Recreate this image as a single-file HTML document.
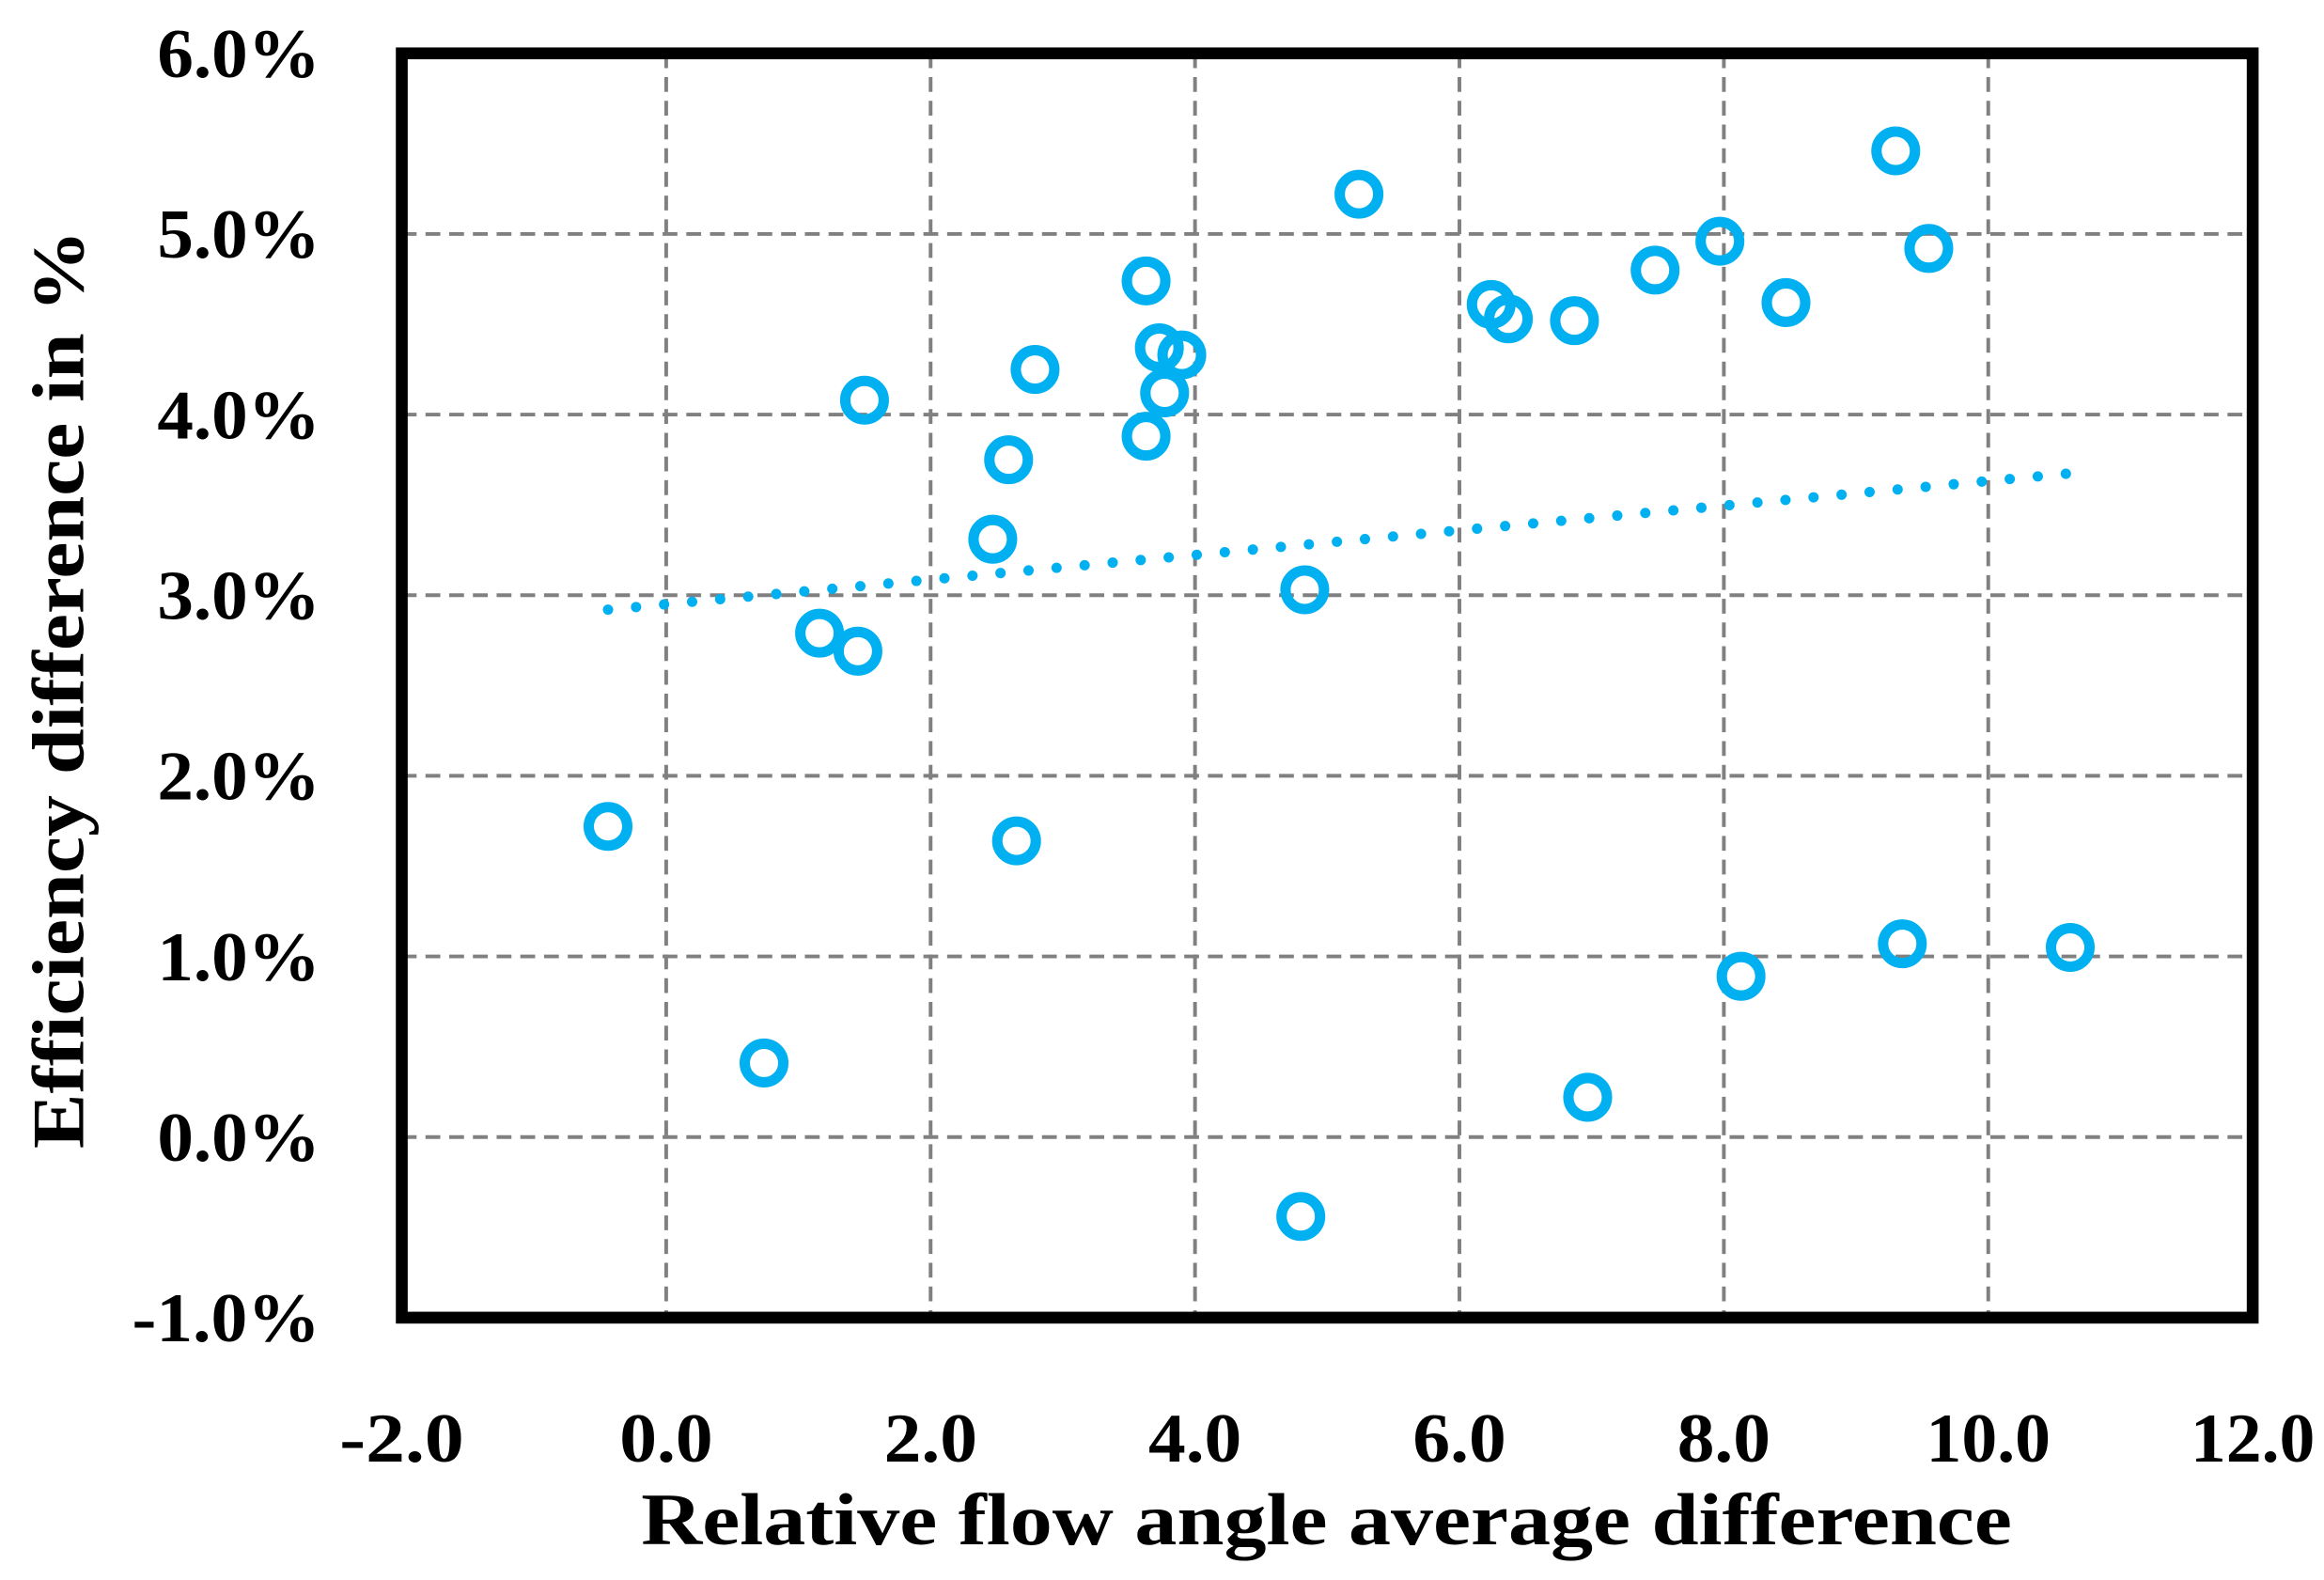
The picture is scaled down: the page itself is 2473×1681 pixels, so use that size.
<!DOCTYPE html>
<html><head><meta charset="utf-8"><style>
html,body{margin:0;padding:0;background:#fff;}
svg{display:block;}
text{font-family:"Liberation Serif",serif;font-weight:bold;fill:#000;}
</style></head><body>
<svg id="chart" width="2473" height="1681" viewBox="0 0 1568 1066" xmlns="http://www.w3.org/2000/svg">
<g id="grid"></g>
<g id="trend"></g>
<g id="pts"></g>
<rect x="271" y="36" width="1249" height="853" fill="none" stroke="#000" stroke-width="8"/>
<g id="xt"></g>
<g id="yt"></g>
<text x="895" y="1042" text-anchor="middle" font-size="50" textLength="925" lengthAdjust="spacingAndGlyphs">Relative flow angle average difference</text>
<text transform="translate(56,465) rotate(-90)" text-anchor="middle" font-size="50" textLength="620" lengthAdjust="spacingAndGlyphs">Efficiency difference in %</text>
</svg>
<script>
const xTicks=[-2,0,2,4,6,8,10,12];
const xTickLabels=["-2.0","0.0","2.0","4.0","6.0","8.0","10.0","12.0"];
const yTicks=[-1,0,1,2,3,4,5,6];
const yTickLabels=["-1.0%","0.0%","1.0%","2.0%","3.0%","4.0%","5.0%","6.0%"];
const xVals=[-0.44,0.74,1.16,1.45,1.50,2.47,2.59,2.65,2.79,3.63,3.63,3.73,3.77,3.90,4.83,4.80,5.24,6.24,6.37,6.87,6.97,7.48,7.97,8.13,8.47,9.30,9.35,9.55,10.62];
const yVals=[1.72,0.41,2.79,2.69,4.08,3.31,3.75,1.64,4.25,4.74,3.88,4.37,4.12,4.33,3.03,-0.44,5.22,4.61,4.53,4.52,0.22,4.80,4.96,0.89,4.62,5.46,1.07,4.92,1.05];
const trendX=[-0.44,10.7];
const trendY=[2.92,3.68];
const NS="http://www.w3.org/2000/svg";
const X=v=>271+(v+2)/14*1249;
const Y=v=>889-(v+1)/7*853;
function mk(tag,attrs,parent){const e=document.createElementNS(NS,tag);for(const k in attrs)e.setAttribute(k,attrs[k]);parent.appendChild(e);return e;}
const grid=document.getElementById('grid');
xTicks.forEach(t=>{if(t>-2&&t<12){const l=mk('line',{x1:X(t),x2:X(t),y1:36,y2:889,stroke:'#808080','stroke-width':2.5,'stroke-dasharray':'10 6'},grid);

}});
yTicks.forEach(t=>{if(t>-1&&t<6){const l=mk('line',{x1:271,x2:1520,y1:Y(t),y2:Y(t),stroke:'#808080','stroke-width':2.5,'stroke-dasharray':'10 6'},grid);

}});
const xt=document.getElementById('xt');
xTicks.forEach((t,i)=>{const w=xTickLabels[i].length*21;const e=mk('text',{x:X(t),y:986,'text-anchor':'middle','font-size':47,textLength:w,lengthAdjust:'spacingAndGlyphs'},xt);e.textContent=xTickLabels[i];

});
const yt=document.getElementById('yt');
yTicks.forEach((t,i)=>{const w=yTickLabels[i].length==5?127:110;const e=mk('text',{x:216,y:Y(t)+16,'text-anchor':'end','font-size':47,textLength:w,lengthAdjust:'spacingAndGlyphs'},yt);e.textContent=yTickLabels[i];

});
const tr=document.getElementById('trend');
const tl=mk('line',{x1:X(trendX[0]),y1:Y(trendY[0]),x2:X(trendX[1]),y2:Y(trendY[1]),stroke:'#00B0F0','stroke-width':7,'stroke-linecap':'round','stroke-dasharray':'0 19'},tr);


const pts=document.getElementById('pts');
xVals.forEach((v,i)=>{const c=mk('circle',{cx:X(v),cy:Y(yVals[i]),r:13,fill:'none',stroke:'#00B0F0','stroke-width':7},pts);

});
</script>
</body></html>
